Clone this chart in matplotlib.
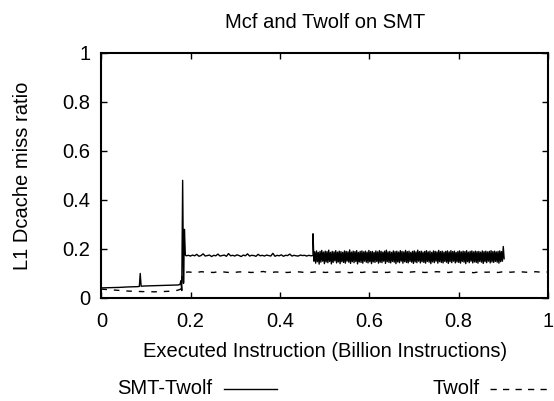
import numpy as np
import matplotlib.pyplot as plt
from matplotlib.lines import Line2D

plt.rcParams['font.family'] = ['Liberation Sans', 'DejaVu Sans']

# SMT-Twolf, start-up phase
smt_x_start = [0.0, 0.02, 0.04, 0.06, 0.080, 0.085, 0.087, 0.089, 0.10, 0.12, 0.14,
               0.16, 0.172, 0.176, 0.178, 0.180, 0.182, 0.184, 0.186, 0.188, 0.190]
smt_y_start = [0.041, 0.042, 0.043, 0.045, 0.046, 0.047, 0.100, 0.048, 0.049, 0.050, 0.051,
               0.052, 0.053, 0.055, 0.070, 0.030, 0.480, 0.060, 0.280, 0.175, 0.172]

# SMT-Twolf, steady phase 0.19 .. 0.474
smt_y_mid = [0.172, 0.174, 0.171, 0.175, 0.172, 0.178, 0.170, 0.173, 0.180, 0.171, 0.173,
             0.175, 0.169, 0.174, 0.172, 0.179, 0.171, 0.173, 0.175, 0.170, 0.181, 0.172,
             0.174, 0.171, 0.176, 0.173, 0.169, 0.175, 0.172, 0.180, 0.171, 0.174, 0.173,
             0.170, 0.178, 0.172, 0.174, 0.171, 0.175, 0.173, 0.171, 0.182, 0.170, 0.174,
             0.172, 0.176, 0.170, 0.174, 0.173, 0.179, 0.171, 0.174, 0.172, 0.171, 0.175,
             0.173, 0.174, 0.171, 0.174, 0.172, 0.173]

# SMT-Twolf, oscillating phase 0.474 .. 0.902 (peaks and troughs)
smt_hi = [0.262, 0.188, 0.192, 0.186, 0.190, 0.194, 0.187, 0.191, 0.189, 0.195, 0.186,
          0.190, 0.188, 0.193, 0.187, 0.191, 0.189, 0.186, 0.192, 0.190, 0.188, 0.196,
          0.187, 0.191, 0.189, 0.193, 0.186, 0.190, 0.192, 0.188, 0.191, 0.187, 0.194,
          0.189, 0.190, 0.186, 0.192, 0.188, 0.193, 0.190, 0.187, 0.191, 0.195, 0.188,
          0.190, 0.186, 0.192, 0.189, 0.191, 0.187, 0.193, 0.190, 0.188, 0.194, 0.189,
          0.191, 0.186, 0.190, 0.192, 0.188, 0.195, 0.189, 0.191, 0.187, 0.190, 0.193,
          0.188, 0.191, 0.186, 0.192, 0.190, 0.188, 0.194, 0.189, 0.191, 0.187, 0.190,
          0.192, 0.188, 0.193, 0.189, 0.191, 0.186, 0.190, 0.192, 0.188, 0.191, 0.189,
          0.193, 0.187, 0.190, 0.192, 0.188, 0.191, 0.189, 0.190, 0.187, 0.192, 0.189,
          0.191, 0.188, 0.190, 0.193, 0.189, 0.191, 0.188, 0.190, 0.192, 0.189, 0.210]
smt_lo = [0.150, 0.142, 0.148, 0.138, 0.146, 0.150, 0.140, 0.147, 0.144, 0.149, 0.139,
          0.145, 0.151, 0.143, 0.147, 0.140, 0.148, 0.145, 0.142, 0.150, 0.146, 0.141,
          0.148, 0.144, 0.149, 0.139, 0.147, 0.145, 0.142, 0.150, 0.146, 0.143, 0.148,
          0.140, 0.147, 0.145, 0.149, 0.142, 0.146, 0.144, 0.150, 0.141, 0.148, 0.145,
          0.143, 0.149, 0.146, 0.140, 0.147, 0.144, 0.150, 0.142, 0.148, 0.145, 0.143,
          0.149, 0.146, 0.141, 0.147, 0.144, 0.150, 0.143, 0.148, 0.145, 0.142, 0.149,
          0.146, 0.140, 0.147, 0.144, 0.150, 0.142, 0.148, 0.145, 0.143, 0.149, 0.146,
          0.141, 0.148, 0.144, 0.150, 0.143, 0.147, 0.145, 0.142, 0.149, 0.146, 0.140,
          0.148, 0.144, 0.150, 0.143, 0.147, 0.145, 0.142, 0.149, 0.146, 0.141, 0.148,
          0.144, 0.150, 0.143, 0.147, 0.145, 0.149, 0.146, 0.142, 0.148, 0.150, 0.160]

# Twolf alone
twolf_x_start = [0.0, 0.03, 0.06, 0.09, 0.12, 0.15, 0.17, 0.178]
twolf_y_start = [0.036, 0.032, 0.028, 0.026, 0.025, 0.027, 0.031, 0.036]
twolf_y_rest = [0.104, 0.106, 0.103, 0.107, 0.105, 0.104, 0.108, 0.105, 0.103, 0.106,
                0.107, 0.104, 0.105, 0.108, 0.103, 0.106, 0.105, 0.104, 0.107, 0.106,
                0.103, 0.105, 0.108, 0.104, 0.106, 0.105, 0.107, 0.103, 0.106, 0.104,
                0.108, 0.105, 0.106, 0.104, 0.107, 0.105, 0.103, 0.106, 0.108, 0.104,
                0.105, 0.107, 0.106, 0.104, 0.108, 0.105, 0.106, 0.103, 0.107, 0.105,
                0.106, 0.104, 0.108, 0.105, 0.107, 0.106, 0.104, 0.107, 0.105, 0.106]

ticks = [0, 0.2, 0.4, 0.6, 0.8, 1]
tick_labels = ['0', '0.2', '0.4', '0.6', '0.8', '1']

# assemble series
x_mid = np.linspace(0.190, 0.474, len(smt_y_mid))
x_osc = np.linspace(0.474, 0.902, 2 * len(smt_hi))
y_osc = np.empty(2 * len(smt_hi))
y_osc[0::2] = smt_hi
y_osc[1::2] = smt_lo
smt_x = np.concatenate([smt_x_start, x_mid[1:], x_osc])
smt_y = np.concatenate([smt_y_start, smt_y_mid[1:], y_osc])

twolf_x = np.concatenate([twolf_x_start, np.linspace(0.182, 1.0, len(twolf_y_rest))])
twolf_y = np.concatenate([twolf_y_start, twolf_y_rest])

FS = 14.5
fig = plt.figure(figsize=(5.54, 4.01), dpi=100)
ax = fig.add_axes([0.183, 0.257, 0.806, 0.611])

ax.plot(smt_x, smt_y, color='black', lw=1.0)
ax.plot(twolf_x, twolf_y, color='black', lw=1.0, dashes=(4, 5))

ax.set_xlim(0, 1)
ax.set_ylim(0, 1)
ax.set_xticks(ticks)
ax.set_xticklabels(tick_labels)
ax.set_yticks(ticks)
ax.set_yticklabels(tick_labels)
ax.tick_params(direction='in', length=4, width=1, top=True, right=True,
               labelsize=FS, pad=8, colors='black')
ax.tick_params(axis='x', pad=10)
for s in ax.spines.values():
    s.set_linewidth(1.5)

ax.set_title('Mcf and Twolf on SMT', fontsize=FS, pad=18)
ax.set_xlabel('Executed Instruction (Billion Instructions)', fontsize=FS, labelpad=8)
ax.set_ylabel('L1 Dcache miss ratio', fontsize=FS, labelpad=22)

# gnuplot-style key below the plot
fig.text(0.383, 0.03, 'SMT-Twolf', ha='right', va='center', fontsize=FS)
fig.add_artist(Line2D([0.404, 0.500], [0.03, 0.03], color='black', lw=1.0))
fig.text(0.866, 0.03, 'Twolf', ha='right', va='center', fontsize=FS)
fig.add_artist(Line2D([0.884, 0.989], [0.03, 0.03], color='black', lw=1.0,
                      dashes=(4.5, 4.5)))

fig.savefig('out.png', dpi=100)
